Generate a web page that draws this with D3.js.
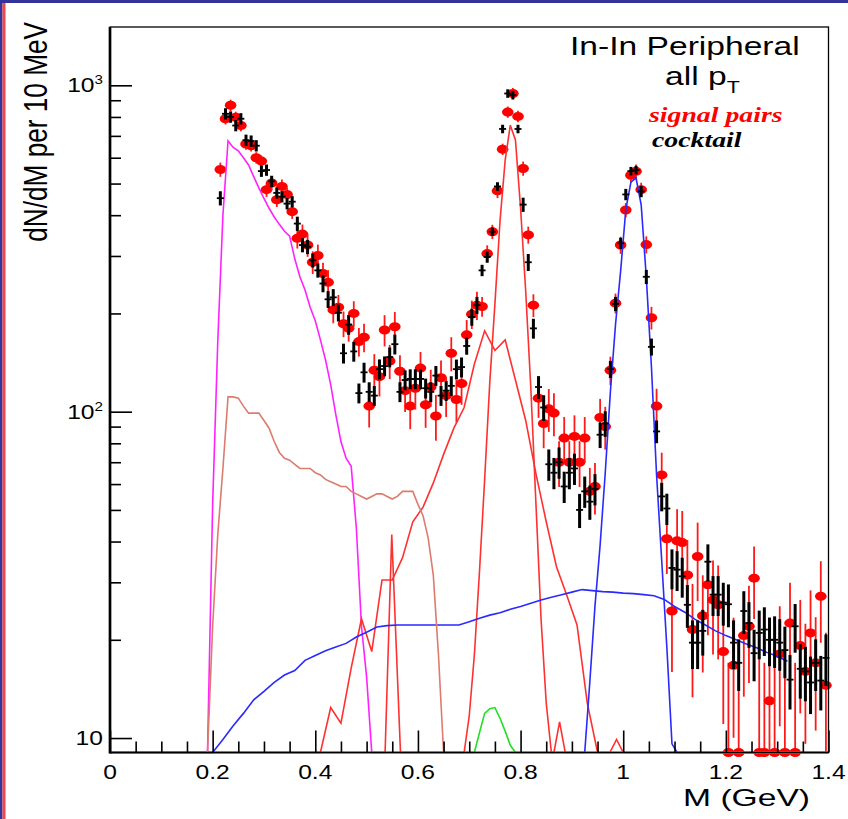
<!DOCTYPE html>
<html>
<head>
<meta charset="utf-8">
<script src="https://cdn.jsdelivr.net/npm/d3@7"></script>
<style>
  body { margin: 0; background: #fff; }
  svg { display: block; }
</style>
</head>
<body>
<div id="chart"></div>
<script>
// 10 MeV bins, first bin centre at 0.215 GeV
const firstBin = 0.215;
const binWidth = 0.01;

// black points ("cocktail"), value and error in percent
const cocktailVals = [
  451, 818, 800, 753, 790, 679, 675, 653, 546, 550,
  508, 468, 456, 434, 440, 377, 324, 320, 291, 271,
  247, 221, 224, 201, 151, 185, 153, 114, 132, 115,
  112, 135, 138, 147, 161, 115, 125, 126, 126, 126,
  118, 115, 129, 112, 116, 120, 135, 137, 159, 195,
  212, 271, 298, 356, 490, 735, 944, 933, 735, 431,
  287, 180, 119, 103, 69, 65, 70, 59, 65, 67,
  50, 57, 53, 58, 85, 92, 135, 214, 328, 463,
  546, 550, 473, 259, 158, 87, 55, 50.5, 33.2, 32.8,
  31.3, 25.6, 19.6, 19.6, 21.3, 34.7, 27.5, 27.5, 26, 25.7,
  19.6, 17, 24.5, 22.5, 18.2, 21, 21.5, 20, 20, 19.6,
  18.6, 15.1, 22, 16.3, 16, 14.8, 17, 15, 17.6
];
const cocktailErr = [
  5, 4, 4, 4, 4, 4, 4, 4, 4, 4,
  4, 4, 4, 4, 4, 5, 5, 5, 5, 5,
  6, 6, 6, 6, 7, 7, 7, 7, 7, 7,
  7, 7, 7, 7, 7, 7, 7, 7, 7, 7,
  7, 7, 7, 7, 7, 7, 7, 7, 6, 6,
  6, 4, 4, 3, 3, 3, 3, 3, 3, 5,
  6, 7, 8, 9, 11, 11, 11, 11, 11, 11,
  12, 11, 12, 11, 9, 9, 6, 5, 4, 4,
  3, 3, 4, 5, 6, 8, 10, 11, 14, 14,
  14, 15, 17, 17, 16, 13, 14, 14, 15, 15,
  17, 18, 15, 16, 18, 17, 17, 17, 18, 18,
  18, 19, 17, 19, 19, 20, 18, 19, 18
];

// red points ("signal pairs"), 0 = below the frame
const signalVals = [
  552, 790, 869, 798, 753, 661, 653, 600, 586, 479,
  502, 446, 490, 463, 410, 340, 350, 324, 287, 301,
  265, 249, 205, 209, 186, 180, 200, 164, 169, 104,
  134, 128, 178, 143, 182, 133, 116, 104, 118, 136,
  105, 119, 97, 127, 112, 151, 109, 122, 172, 199,
  212, 210, 305, 356, 475, 637, 828, 944, 803, 556,
  348, 212, 110, 92, 102, 99, 70, 83, 70, 84,
  70, 83, 57, 59, 96, 90, 134, 215, 324, 415,
  530, 545, 479, 325, 194, 104, 64, 40.8, 24.5, 40.2,
  39.7, 31.6, 21.5, 36, 23.7, 29.5, 26.5, 25.6, 18.4, 0,
  16.7, 0, 20.6, 22, 30.9, 0, 0, 13, 0, 18.1,
  0, 22.5, 0, 19.2, 16, 21, 17, 27.2, 14.5
];
const signalErr = [
  5, 4, 4, 4, 4, 4, 4, 4, 4, 5,
  5, 5, 5, 5, 5, 7, 7, 8, 8, 8,
  8, 9, 9, 9, 9, 9, 9, 10, 10, 14,
  12, 13, 11, 12, 11, 12, 14, 15, 14, 12,
  15, 13, 16, 13, 14, 12, 15, 14, 11, 10,
  10, 7, 6, 5, 5, 4, 4, 4, 4, 5,
  6, 8, 13, 16, 15, 15, 16, 16, 16, 16,
  16, 16, 18, 18, 14, 15, 10, 7, 6, 5,
  5, 5, 5, 6, 8, 13, 17, 22, 35, 25,
  25, 28, 38, 27, 33, 30, 32, 32, 40, 0,
  40, 0, 35, 33, 25, 0, 0, 48, 0, 40,
  0, 33, 0, 38, 40, 35, 38, 28, 45
];
// upper end of the error bar for the empty bins
const signalUnderTop = { 99: 17, 101: 16, 105: 18, 106: 17, 108: 19, 110: 16, 112: 17 };

// cocktail components
const etaDalitzStart = 0.19;   // magenta, 10 MeV steps
const etaDalitzVals = [0, 52, 164, 400, 676, 645, 630, 600, 570, 525, 485, 450, 420, 395, 375,
  357, 345, 294, 259, 236, 209, 190, 166, 144, 121, 98, 81, 72, 68, 44, 22, 15.4, 0];

const omegaDalitzStart = 0.19; // salmon, 10 MeV steps
const omegaDalitzVals = [0, 22, 42, 67, 111, 111, 110, 104, 99, 99, 99, 94, 89, 81, 75, 72, 71,
  69, 67, 67, 67, 65, 64, 62, 61, 60, 59, 59, 57, 56, 55, 54, 55, 56, 56, 55, 54, 55, 57, 57,
  57, 52, 48, 41, 31.5, 18, 0];

const rhoStart = 0.41;         // broad red, 20 MeV steps
const rhoVals = [0, 12.4, 11.1, 16.4, 23.2, 18.4, 30.5, 30.5, 35.7, 46, 51, 60.5, 74, 89, 103,
  140, 177, 154, 166, 125, 94, 64.5, 46, 33.5, 27.4, 22.2, 12.8, 0];

const omegaMass = [0, 0.536, 0.549, 0.566, 0.69, 0.70, 0.71, 0.72, 0.73, 0.74, 0.75, 0.76, 0.77,
  0.78, 0.79, 0.80, 0.81, 0.82, 0.83, 0.84, 0.85, 0.86, 0.865, 0.876, 0.887, 0.974, 0.987, 1.0, 1.4];
const omegaVals = [0, 0, 42, 0, 0, 11.7, 18, 32.5, 62, 123, 214, 385, 590, 755, 680, 420, 234,
  118, 52, 23, 12.8, 0, 0, 11.2, 0, 0, 9.9, 0, 0];

const etaPrimeStart = 0.70;    // green, 10 MeV steps
const etaPrimeVals = [0, 0, 10.4, 11.9, 12.3, 12.4, 11.5, 10.5, 9.5, 0];

const charmStart = 0.20;       // broad blue, 20 MeV steps
const charmVals = [0, 9.9, 10.9, 11.9, 13.1, 13.9, 14.8, 15.6, 16.1, 17.3, 17.9, 18.5, 19.0,
  19.5, 20.4, 21.1, 21.9, 22.1, 22.2, 22.2, 22.2, 22.2, 22.2, 22.2, 22.2, 22.7, 23.3, 23.8,
  24.2, 24.8, 25.3, 25.9, 26.5, 27.0, 27.5, 28.0, 28.5, 28.3, 28.1, 28.0, 27.8, 27.7, 27.5,
  27.3, 26.6, 25.3, 24.3, 23.1, 22.2, 21.3, 20.6, 20.0, 19.4, 18.9, 18.3, 17.8, 17.2];

const phiStart = 0.905;        // narrow blue, 10 MeV steps
const phiVals = [0, 0, 9, 14.9, 25.4, 39, 65, 115, 185, 270, 415, 505, 520, 430, 258, 137, 64,
  35, 19, 9.6, 0];

const xTickVals = [0, 0.2, 0.4, 0.6, 0.8, 1.0, 1.2, 1.4];
const xTickLabels = ["0", "0.2", "0.4", "0.6", "0.8", "1", "1.2", "1.4"];
const yTickVals = [10, 100, 1000];
const yTickExp = ["", "2", "3"];

const W = 848, H = 819;
const SX = 1.263; // the picture is stretched sideways
const sans = "'Liberation Sans', Arial, Helvetica, sans-serif";
const serif = "'Liberation Serif', 'Times New Roman', serif";

const svg = d3.select("#chart").append("svg").attr("width", W).attr("height", H);
svg.append("rect").attr("width", W).attr("height", H).attr("fill", "#fff");

// slide border
svg.append("rect").attr("x", 0).attr("y", 0).attr("width", W).attr("height", 3).attr("fill", "#333399");
svg.append("rect").attr("x", 0).attr("y", 0).attr("width", 2.5).attr("height", H).attr("fill", "#333399");
svg.append("rect").attr("x", 2.5).attr("y", 3).attr("width", 3).attr("height", H).attr("fill", "#f04848");

const x = d3.scaleLinear().domain([0, 1.4]).range([110, 828.5]);
const y = d3.scaleLog().domain([9.03, 1509]).range([752.5, 27]);
const yBottom = y.range()[0];
const yc = v => (v <= y.domain()[0] ? yBottom : Math.max(y(v), 27));

function gridPoints(start, step, vals, padEnd) {
  const pts = [[0, 0]].concat(vals.map((v, i) => [start + step * i, v]));
  if (padEnd) pts.push([1.4, 0]);
  return pts;
}

const line = d3.line().x(d => x(d[0])).y(d => yc(d[1]));

function label(x0, y0, txt, size, opts = {}) {
  const t = svg.append("text")
    .attr("transform", `translate(${x0},${y0}) scale(${opts.sx || SX},1)` + (opts.rotate ? " rotate(-90)" : ""))
    .attr("text-anchor", opts.anchor || "start")
    .style("font-family", opts.family || sans)
    .style("font-size", size + "px")
    .style("font-weight", opts.weight || "normal")
    .style("font-style", opts.style || "normal")
    .style("fill", opts.color || "#000");
  t.append("tspan").text(txt);
  return t;
}

const binX = i => x(firstBin + binWidth * i);

// red points
const red = svg.append("g");
signalVals.forEach((v, i) => {
  const cx = binX(i);
  if (v > 0) {
    const e = v * signalErr[i] / 100;
    red.append("line").attr("x1", cx).attr("x2", cx)
      .attr("y1", yc(v + e)).attr("y2", yc(v - e))
      .attr("stroke", "#ff1a1a").attr("stroke-width", 1.8);
    red.append("ellipse").attr("cx", cx).attr("cy", yc(v)).attr("rx", 5.8).attr("ry", 4.5).attr("fill", "#ff0000");
  } else {
    red.append("line").attr("x1", cx).attr("x2", cx)
      .attr("y1", yc(signalUnderTop[i])).attr("y2", yBottom)
      .attr("stroke", "#ff1a1a").attr("stroke-width", 1.8);
    red.append("ellipse").attr("cx", cx).attr("cy", yBottom).attr("rx", 5.8).attr("ry", 4.5).attr("fill", "#ff0000");
  }
});

// cocktail curves
const curves = [
  { pts: gridPoints(etaPrimeStart, 0.01, etaPrimeVals, true), color: "#22e022" },
  { pts: gridPoints(etaDalitzStart, 0.01, etaDalitzVals, true), color: "#ff22ff" },
  { pts: gridPoints(rhoStart, 0.02, rhoVals, true), color: "#ff3030" },
  { pts: omegaMass.map((m, i) => [m, omegaVals[i]]), color: "#ff3030" },
  { pts: gridPoints(charmStart, 0.02, charmVals, false), color: "#2a2aff" },
  { pts: gridPoints(phiStart, 0.01, phiVals, true), color: "#2a2aff" },
  { pts: gridPoints(omegaDalitzStart, 0.01, omegaDalitzVals, true), color: "#dc7b6e" }
];
svg.append("g").selectAll("path")
  .data(curves)
  .join("path")
  .attr("d", d => line(d.pts))
  .attr("fill", "none")
  .attr("stroke", d => d.color)
  .attr("stroke-width", 1.6);

// black points
const black = svg.append("g");
cocktailVals.forEach((v, i) => {
  const cx = binX(i);
  const e = v * cocktailErr[i] / 100;
  black.append("line").attr("x1", cx).attr("x2", cx)
    .attr("y1", yc(v + e)).attr("y2", yc(v - e))
    .attr("stroke", "#000").attr("stroke-width", 3);
  black.append("line").attr("x1", cx - 3.5).attr("x2", cx + 3.5)
    .attr("y1", yc(v)).attr("y2", yc(v))
    .attr("stroke", "#000").attr("stroke-width", 1.8);
});

// axes (ticks inside the frame)
const xMinor = d3.range(0, 28.5).map(k => k * 0.05).filter(v => Math.abs(v / 0.2 - Math.round(v / 0.2)) > 1e-6);
const axX1 = svg.append("g").attr("transform", `translate(0,${yBottom})`)
  .call(d3.axisBottom(x).tickValues(xMinor).tickSize(-11).tickFormat(""));
const axX2 = svg.append("g").attr("transform", `translate(0,${yBottom})`)
  .call(d3.axisBottom(x).tickValues(xTickVals).tickSize(-22).tickFormat(""));
const yMinor = [20, 30, 40, 50, 60, 70, 80, 90, 200, 300, 400, 500, 600, 700, 800, 900];
const axY1 = svg.append("g").attr("transform", `translate(110,0)`)
  .call(d3.axisLeft(y).tickValues(yMinor).tickSize(-11).tickFormat(""));
const axY2 = svg.append("g").attr("transform", `translate(110,0)`)
  .call(d3.axisLeft(y).tickValues(yTickVals).tickSize(-22).tickFormat(""));
[axX1, axX2, axY1, axY2].forEach(a => {
  a.select(".domain").remove();
  a.selectAll(".tick line").attr("stroke", "#000").attr("stroke-width", 1.6);
});

// frame
svg.append("rect").attr("x", 110).attr("y", 27).attr("width", 718.5).attr("height", 725.5)
  .attr("fill", "none").attr("stroke", "#000").attr("stroke-width", 1.3);
svg.append("line").attr("x1", 110).attr("x2", 110).attr("y1", 27).attr("y2", yBottom + 1)
  .attr("stroke", "#000").attr("stroke-width", 2.7);

// tick labels
xTickVals.forEach((v, i) => label(x(v), 779, xTickLabels[i], 19.5, { anchor: "middle" }));
yTickVals.forEach((v, i) => {
  const t = label(103, y(v) + 7, "10", 19.5, { anchor: "end" });
  if (yTickExp[i]) t.append("tspan").attr("dy", -8).style("font-size", "12px").text(yTickExp[i]);
});

// axis titles
label(810, 806, "M (GeV)", 24, { anchor: "end", sx: 1.4 });
label(47, 22, "dN/dM per 10 MeV", 26.2, { anchor: "end", rotate: true });

// legend texts
label(570, 55, "In-In Peripheral", 26.6);
const pt = label(665, 85, "all p", 26.6);
pt.append("tspan").attr("dy", 8).style("font-size", "17px").text("T");
label(649, 121.5, "signal pairs", 22, { family: serif, weight: "bold", style: "italic", color: "#ff0000" });
label(652, 146.5, "cocktail", 22, { family: serif, weight: "bold", style: "italic" });
</script>
</body>
</html>
